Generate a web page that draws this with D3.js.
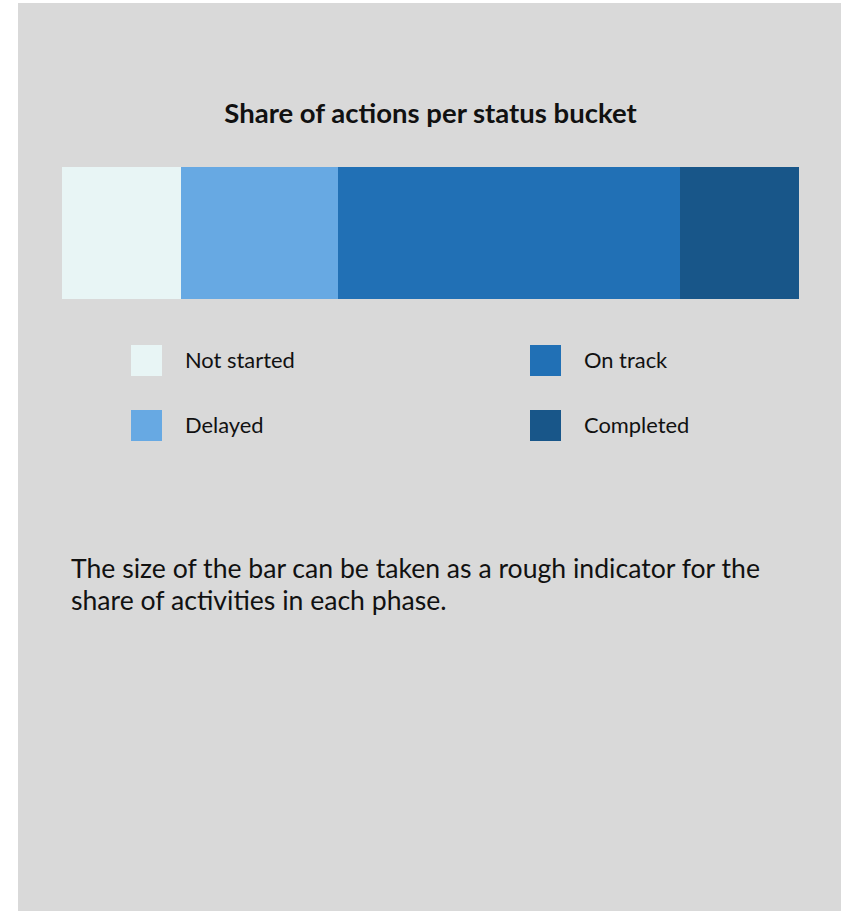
<!DOCTYPE html>
<html>
<head>
<meta charset="utf-8">
<script src="https://cdn.jsdelivr.net/npm/d3@7"></script>
<style>
  body { margin: 0; background: #fff; }
  text { font-family: Lato, "Open Sans", sans-serif; fill: #111; }
</style>
</head>
<body>
<svg id="chart" width="841" height="911"></svg>
<script>
// status buckets and their share
const statuses = ['Not started', 'Delayed', 'On track', 'Completed']
const shares = [16.1, 21.4, 46.3, 16.2]
const colors = ['#e8f5f5', '#67a9e3', '#2170b5', '#185689']
const title = 'Share of actions per status bucket'
const noteLines = [
    'The size of the bar can be taken as a rough indicator for the',
    'share of activities in each phase.',
]

const svg = d3.select('#chart')

// grey panel
svg.append('rect')
    .attr('x', 18).attr('y', 3)
    .attr('width', 823).attr('height', 908)
    .attr('fill', '#d9d9d9')

const x = d3.scaleLinear()
    .domain([0, d3.sum(shares)])
    .range([62, 799])
    .interpolate(d3.interpolateRound)

// cumulative start of each segment
const starts = d3.cumsum([0, ...shares.slice(0, -1)])
const data = statuses.map((s, i) => ({ name: s, value: shares[i], start: starts[i], color: colors[i] }))

svg.append('text')
    .attr('x', (x.range()[0] + x.range()[1]) / 2)
    .attr('y', 123)
    .attr('text-anchor', 'middle')
    .style('font-weight', 700)
    .style('font-size', '27.5px')
    .text(title)

svg.append('g')
    .attr('shape-rendering', 'crispEdges')
    .selectAll('rect')
    .data(data)
    .join('rect')
    .attr('x', d => x(d.start))
    .attr('y', 167)
    .attr('width', d => x(d.start + d.value) - x(d.start))
    .attr('height', 132)
    .attr('fill', d => d.color)

// legend: two columns, two rows (column-major)
const legend = svg.append('g')
    .selectAll('g')
    .data(data)
    .join('g')
    .attr('transform', (d, i) => `translate(${i < 2 ? 131 : 530},${345 + (i % 2) * 65})`)

legend.append('rect')
    .attr('width', 31)
    .attr('height', 31)
    .attr('fill', d => d.color)

legend.append('text')
    .attr('x', 54)
    .attr('y', 15.5)
    .attr('dy', '0.35em')
    .style('font-size', '21.9px')
    .text(d => d.name)

svg.append('g')
    .selectAll('text')
    .data(noteLines)
    .join('text')
    .attr('x', 71)
    .attr('y', (d, i) => 578 + i * 32)
    .style('font-size', '26.6px')
    .text(d => d)
</script>
</body>
</html>
